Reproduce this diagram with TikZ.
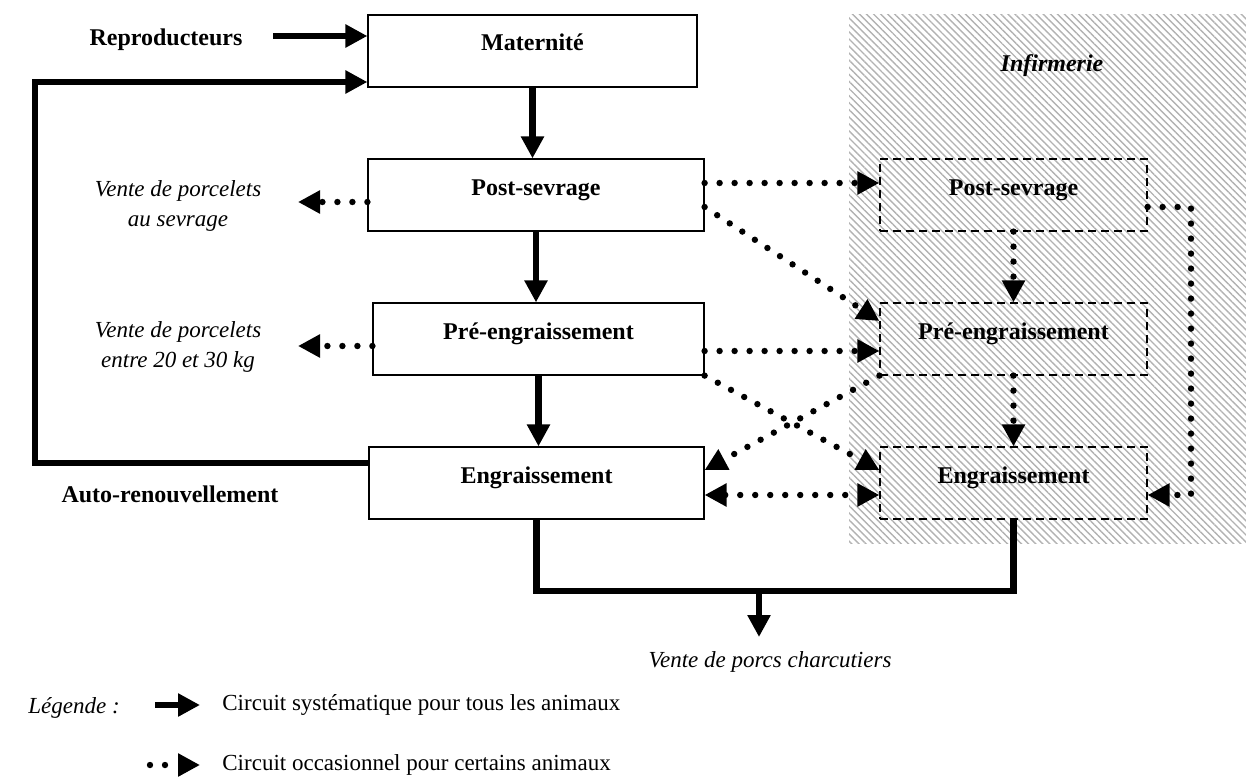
\documentclass[tikz,border=0pt,12pt]{standalone}
\usepackage{fontspec}
\setmainfont{Liberation Serif}
\usetikzlibrary{arrows.meta,patterns.meta,calc}
\begin{document}
\begin{tikzpicture}[x=0.5pt,y=-0.5pt,
  every node/.style={font=\fontsize{11.5pt}{15pt}\selectfont},
  >={Triangle[length=11pt,width=11pt]},
  box/.style={draw, line width=0.6pt, fill=white, inner sep=0pt, minimum height=36pt,
    text height=18pt, text depth=18pt, align=center, font=\fontsize{12pt}{15pt}\selectfont\bfseries},
  ibox/.style={draw, line width=0.6pt, dash pattern=on 4pt off 2.5pt, inner sep=0pt,
    minimum width=133.5pt, minimum height=36pt, text height=18pt, text depth=18pt,
    align=center, font=\fontsize{12pt}{15pt}\selectfont\bfseries},
  zone/.style={pattern={Lines[angle=-45,distance=2.5pt,line width=0.7pt]}, pattern color=black!30,
    inner sep=0pt, minimum width=198.5pt, minimum height=264pt},
  thk/.style={line width=3.3pt, line join=miter},
  dots/.style={line width=3.2pt, line cap=round, dash pattern=on 0pt off 7.5pt},
  lbl/.style={inner sep=0pt, font=\fontsize{12pt}{15pt}\selectfont\bfseries},
  itl/.style={inner sep=0pt, font=\fontsize{11.5pt}{15pt}\selectfont\itshape, align=center}
]
\useasboundingbox (0,0) rectangle (1246,781);

% Infirmerie zone
\node[zone] (inf) at (1047.5,279) {};
\node[inner sep=0pt, font=\fontsize{12pt}{15pt}\selectfont\bfseries\itshape] (inft) at (1052,66) {Infirmerie};

% main boxes
\node[box, minimum width=164.5pt] (mat) at (532.5,51) {Maternité};
\node[box, minimum width=168pt] (ps) at (536,195) {Post-sevrage};
\node[box, minimum width=165.5pt] (pe) at (538.5,339) {Pré-engraissement};
\node[box, minimum width=167.5pt] (en) at (536.5,483) {Engraissement};

% infirmerie boxes
\node[ibox] (ips) at (1013.5,195) {Post-sevrage};
\node[ibox] (ipe) at (1013.5,339) {Pré-engraissement};
\node[ibox] (ien) at (1013.5,483) {Engraissement};

% labels
\node[lbl] (rep) at (166,40) {Reproducteurs};
\node[lbl] (auto) at (170,494) {Auto-renouvellement};
\node[itl] (v1) at (178,206) {Vente de porcelets\\au sevrage};
\node[itl] (v2) at (178,347) {Vente de porcelets\\entre 20 et 30 kg};
\node[itl] (vpc) at (770,662) {Vente de porcs charcutiers};

% coordinates
\coordinate (repx) at (273,36);
\coordinate (lp) at (35,270);
\coordinate (t1) at (298,202);
\coordinate (t2) at (298,346);
\coordinate (rx) at (1191,350);
\coordinate (bj) at (759,591);
\coordinate (bt) at (759,637);

% systematic circuit
\draw[thk,->] (repx) -- ([yshift=7.5pt]mat.west);
\draw[thk,->] ([yshift=10pt]en.west) -| (lp) |- ([yshift=-15.5pt]mat.west);
\draw[thk,->] (mat.south) -- (mat.south |- ps.north);
\draw[thk,->] (ps.south) -- (ps.south |- pe.north);
\draw[thk,->] (pe.south) -- (pe.south |- en.north);
\draw[thk] (en.south) |- (bj) -| (ien.south);
\draw[thk,->] (bj) -- (bt);

% occasional circuit
\draw[dots,->] ([yshift=-3.5pt]ps.west) -- (t1);
\draw[dots,->] ([yshift=-3.5pt]pe.west) -- (t2);
\draw[dots,->] ([yshift=6pt]ps.east) -- ([yshift=6pt]ips.west);
\draw[dots,->] ([yshift=-6pt]ps.east) -- ([yshift=9pt]ipe.west);
\draw[dots,->] ([yshift=-6pt]pe.east) -- ([yshift=-6pt]ipe.west);
\draw[dots,->] (pe.south east) -- ([yshift=6.5pt]ien.west);
\draw[dots,->] (ipe.south west) -- ([yshift=6.5pt]en.east);
\draw[dots,<->] ([yshift=-6pt]en.east) -- ([yshift=-6pt]ien.west);
\draw[dots,->] (ips.south) -- (ipe.north);
\draw[dots,->] (ipe.south) -- (ien.north);
\draw[dots,->] ([yshift=-6pt]ips.east) -| (rx) |- ([yshift=-6pt]ien.east);

% legend
\node[inner sep=0pt, font=\fontsize{11.5pt}{15pt}\selectfont\itshape] (leg) at (74,708) {Légende :};
\coordinate (la1) at (155,705);
\coordinate (la2) at (200,705);
\coordinate (lb1) at (150,765);
\coordinate (lb2) at (200,765);
\draw[thk,->] (la1) -- (la2);
\draw[dots,->] (lb1) -- (lb2);
\node[inner sep=0pt, anchor=west] (l1) at (222,705) {Circuit systématique pour tous les animaux};
\node[inner sep=0pt, anchor=west] (l2) at (222,765) {Circuit occasionnel pour certains animaux};
\end{tikzpicture}
\end{document}
